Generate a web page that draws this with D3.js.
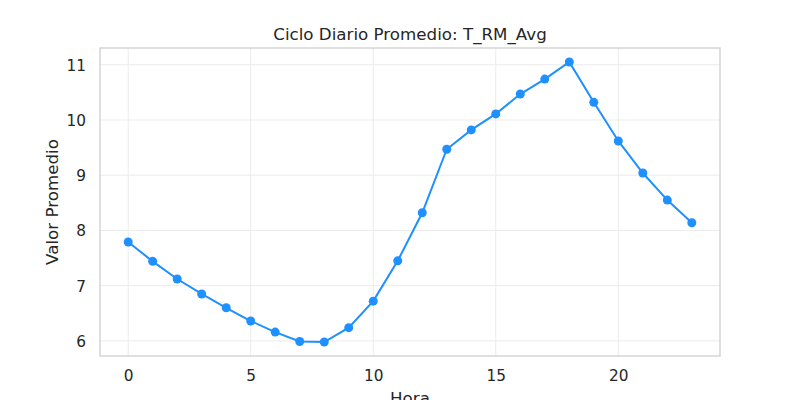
<!DOCTYPE html>
<html>
<head>
<meta charset="utf-8">
<script src="https://cdn.jsdelivr.net/npm/d3@7"></script>
<style>
  html, body { margin: 0; padding: 0; background: #fff; }
  svg text { font-family: "DejaVu Sans", sans-serif; fill: #262626; }
</style>
</head>
<body>
<svg id="chart" width="800" height="400"></svg>
<script>
const hours = [0,1,2,3,4,5,6,7,8,9,10,11,12,13,14,15,16,17,18,19,20,21,22,23];
const values = [7.79,7.44,7.12,6.85,6.60,6.36,6.16,5.99,5.98,6.24,6.72,7.45,8.32,9.47,9.82,10.11,10.47,10.74,11.05,10.32,9.62,9.04,8.55,8.14];
const xTicks = [0,5,10,15,20];
const yTicks = [6,7,8,9,10,11];
const title = "Ciclo Diario Promedio: T_RM_Avg";
const xLabel = "Hora";
const yLabel = "Valor Promedio";

const svg = d3.select("#chart");
const mLeft = 100, mRight = 720, mTop = 48, mBottom = 356;

const xMin = d3.min(hours), xMax = d3.max(hours);
const xPad = (xMax - xMin) * 0.05;
const yMin = d3.min(values), yMax = d3.max(values);
const yPad = (yMax - yMin) * 0.05;

const x = d3.scaleLinear().domain([xMin - xPad, xMax + xPad]).range([mLeft, mRight]);
const y = d3.scaleLinear().domain([yMin - yPad, yMax + yPad]).range([mBottom, mTop]);

// grid
const g = svg.append("g");
g.selectAll("line.vg").data(xTicks).enter().append("line")
  .attr("x1", d => x(d)).attr("x2", d => x(d))
  .attr("y1", mTop).attr("y2", mBottom)
  .attr("stroke", "#ebebeb").attr("stroke-width", 1);
g.selectAll("line.hg").data(yTicks).enter().append("line")
  .attr("x1", mLeft).attr("x2", mRight)
  .attr("y1", d => y(d)).attr("y2", d => y(d))
  .attr("stroke", "#ebebeb").attr("stroke-width", 1);

const xAxis = d3.axisBottom(x).tickValues(xTicks).tickSize(0).tickPadding(0).tickFormat(d3.format("d"));
const yAxis = d3.axisLeft(y).tickValues(yTicks).tickSize(0).tickPadding(0).tickFormat(d3.format("d"));

const xg = svg.append("g").attr("transform", `translate(0,${mBottom})`).call(xAxis);
xg.select(".domain").remove();
xg.selectAll("text").attr("font-size", "15.3px").attr("dy", null).attr("y", 25)
  .style("font-family", "'DejaVu Sans', sans-serif").attr("fill", "#262626");

const yg = svg.append("g").attr("transform", `translate(${mLeft},0)`).call(yAxis);
yg.select(".domain").remove();
yg.selectAll("text").attr("font-size", "15.3px").attr("x", -14).attr("dy", "0.35em")
  .style("font-family", "'DejaVu Sans', sans-serif").attr("fill", "#262626");

// frame
svg.append("rect").attr("x", mLeft).attr("y", mTop)
  .attr("width", mRight - mLeft).attr("height", mBottom - mTop)
  .attr("fill", "none").attr("stroke", "#cccccc").attr("stroke-width", 1.25);

// line
const line = d3.line().x((d, i) => x(hours[i])).y(d => y(d));
svg.append("path").datum(values).attr("d", line)
  .attr("fill", "none").attr("stroke", "#1e90ff").attr("stroke-width", 2);

svg.selectAll("circle").data(values).enter().append("circle")
  .attr("cx", (d, i) => x(hours[i])).attr("cy", d => y(d)).attr("r", 4.5)
  .attr("fill", "#1e90ff");

// titles
svg.append("text").attr("x", (mLeft + mRight) / 2).attr("y", 40)
  .attr("text-anchor", "middle").attr("font-size", "16.7px").text(title);
svg.append("text").attr("x", (mLeft + mRight) / 2).attr("y", 404)
  .attr("text-anchor", "middle").attr("font-size", "16.7px").text(xLabel);
svg.append("text").attr("transform", `translate(58,${(mTop + mBottom) / 2}) rotate(-90)`)
  .attr("text-anchor", "middle").attr("font-size", "16.7px").text(yLabel);
</script>
</body>
</html>
